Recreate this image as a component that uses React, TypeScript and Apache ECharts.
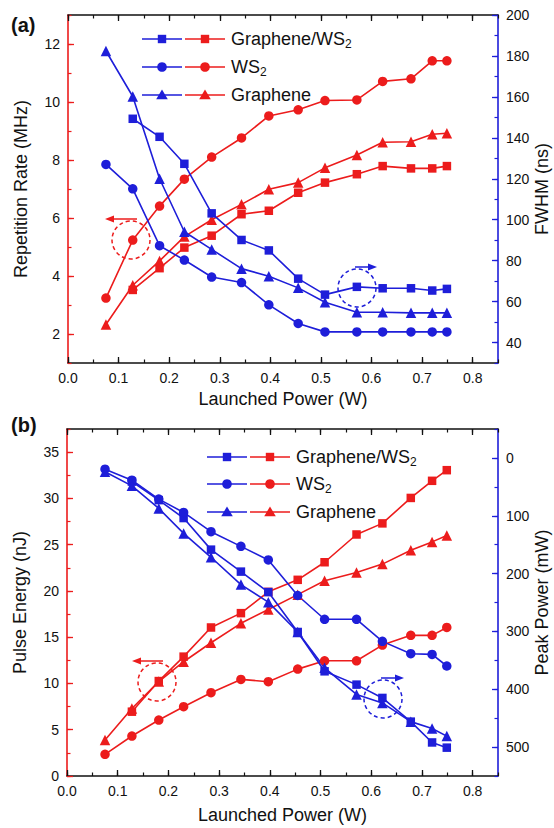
import React, { useEffect, useRef } from "react";
import * as echarts from "echarts";

// ---------- data ----------
const power = [0.075, 0.128, 0.181, 0.23, 0.284, 0.343, 0.397, 0.455, 0.508, 0.571, 0.622, 0.678, 0.72, 0.749];
const powerGW = [0.128, 0.181, 0.23, 0.284, 0.343, 0.397, 0.455, 0.508, 0.571, 0.622, 0.678, 0.72, 0.749];

// (a) repetition rate (MHz)
const repGW = [3.52, 4.27, 4.98, 5.39, 6.13, 6.25, 6.87, 7.22, 7.51, 7.79, 7.71, 7.71, 7.79];
const repWS2 = [3.24, 5.24, 6.41, 7.34, 8.1, 8.76, 9.52, 9.73, 10.05, 10.07, 10.71, 10.8, 11.42, 11.42];
const repG = [2.33, 3.68, 4.52, 5.36, 5.94, 6.47, 6.99, 7.22, 7.73, 8.17, 8.61, 8.63, 8.89, 8.92];
// (a) FWHM (ns)
const fwhmGW = [149.3, 140.5, 127.3, 103.1, 90.1, 85, 71.2, 63.4, 67.2, 66.5, 66.5, 65.4, 66.2];
const fwhmWS2 = [127, 115.1, 87.3, 80.3, 72, 69.3, 58.4, 49.3, 45.2, 45.2, 45.2, 45.2, 45.2, 45.2];
const fwhmG = [182.4, 160.2, 120, 94.1, 85.5, 76.1, 72.4, 66.7, 59.7, 54.8, 54.8, 54.5, 54.5, 54.5];

// (b) pulse energy (nJ)
const energyGW = [6.95, 10.26, 12.9, 16.05, 17.6, 19.9, 21.2, 23.1, 26.1, 27.3, 30.05, 31.9, 33.05];
const energyWS2 = [2.34, 4.32, 6.05, 7.49, 9.0, 10.44, 10.19, 11.55, 12.45, 12.45, 14.15, 15.2, 15.2, 16.05];
const energyG = [3.89, 7.3, 10.2, 12.35, 14.4, 16.5, 18.0, 19.6, 21.1, 22.0, 22.9, 24.4, 25.3, 26.0];
// (b) peak power (mW)
const peakGW = [41, 73, 104, 158.6, 196.6, 232, 301, 369, 392, 415, 456, 492, 501];
const peakWS2 = [19.5, 38.5, 71.2, 94.3, 127.6, 152.9, 176.4, 237.9, 279, 279, 317.2, 338.5, 339.7, 359.8];
const peakG = [24, 48.3, 87.4, 130.5, 171.8, 219, 249.4, 301, 363, 409, 423.6, 456, 467.8, 481];

// tick labels
const xTicks = [0, 0.1, 0.2, 0.3, 0.4, 0.5, 0.6, 0.7, 0.8];
const repTicks = [2, 4, 6, 8, 10, 12];
const fwhmTicks = [40, 60, 80, 100, 120, 140, 160, 180, 200];
const energyTicks = [0, 5, 10, 15, 20, 25, 30, 35];
const peakTicks = [0, 100, 200, 300, 400, 500];

const legendNames = ["Graphene/WS", "WS", "Graphene"];
const legendSubs = ["2", "2", ""];
const legendSymbols = ["rect", "circle", "triangle"];

// ---------- style ----------
const BLUE = "#1e1ed9";
const RED = "#ec1c1c";
const BLACK = "#111";
const FONT = "'Liberation Sans', Arial, sans-serif";

const zip = (xs: number[], ys: number[]) => xs.map((x, i) => [x, ys[i]]);

function xAxesFor(gridIndex: number, nameGap: number) {
  const base = {
    type: "value",
    gridIndex,
    min: 0,
    max: 0.85,
    splitLine: { show: false },
  };
  return [
    {
      ...base,
      position: "bottom",
      name: "Launched Power (W)",
      nameLocation: "middle",
      nameGap,
      nameMoveOverlap: false,
      nameTextStyle: { fontSize: 18, color: BLACK, fontFamily: FONT },
      axisLine: { show: true, onZero: false, lineStyle: { color: BLACK, width: 1.5 } },
      axisTick: { show: true, inside: true, length: 6, customValues: xTicks, lineStyle: { color: BLACK, width: 1.3 } },
      axisLabel: {
        customValues: xTicks,
        formatter: (v: number) => v.toFixed(1),
        color: BLACK,
        fontSize: 14,
        fontFamily: FONT,
        margin: 8,
      },
    },
    {
      ...base,
      position: "bottom",
      interval: 0.05,
      axisLine: { show: false, onZero: false },
      axisTick: { show: true, inside: true, length: 3.5, lineStyle: { color: BLACK, width: 1.2 } },
      axisLabel: { show: false },
    },
    {
      ...base,
      position: "top",
      axisLine: { show: true, onZero: false, lineStyle: { color: BLACK, width: 1.5 } },
      axisTick: { show: true, inside: true, length: 6, customValues: xTicks, lineStyle: { color: BLACK, width: 1.3 } },
      axisLabel: { show: false },
    },
    {
      ...base,
      position: "top",
      interval: 0.05,
      axisLine: { show: false, onZero: false },
      axisTick: { show: true, inside: true, length: 3.5, lineStyle: { color: BLACK, width: 1.2 } },
      axisLabel: { show: false },
    },
  ];
}

function yAxisPair(
  gridIndex: number,
  position: string,
  color: string,
  min: number,
  max: number,
  ticks: number[],
  minorStep: number,
  name: string,
  nameGap: number,
  inverse: boolean
) {
  const base = {
    type: "value",
    gridIndex,
    position,
    min,
    max,
    inverse,
    splitLine: { show: false },
  };
  return [
    {
      ...base,
      name,
      nameLocation: "middle",
      nameRotate: 90,
      nameGap,
      nameMoveOverlap: false,
      nameTextStyle: { fontSize: 18, color: BLACK, fontFamily: FONT },
      axisLine: { show: true, onZero: false, lineStyle: { color, width: 1.6 } },
      axisTick: { show: true, inside: true, length: 6, customValues: ticks, lineStyle: { color, width: 1.3 } },
      axisLabel: { customValues: ticks, color: BLACK, fontSize: 14, fontFamily: FONT, margin: 8 },
    },
    {
      ...base,
      interval: minorStep,
      axisLine: { show: false, onZero: false },
      axisTick: { show: true, inside: true, length: 3.5, lineStyle: { color, width: 1.2 } },
      axisLabel: { show: false },
    },
  ];
}

function lineSeries(
  data: number[][],
  color: string,
  symbol: string,
  xAxisIndex: number,
  yAxisIndex: number
) {
  const size = symbol === "rect" ? 8.5 : symbol === "circle" ? 9.5 : 10.5;
  return {
    type: "line",
    data,
    xAxisIndex,
    yAxisIndex,
    symbol,
    symbolSize: size,
    showSymbol: true,
    lineStyle: { color, width: 1.6 },
    itemStyle: { color, borderWidth: 0 },
    emphasis: { disabled: true },
    silent: true,
  };
}

function marker(sym: string, cx: number, cy: number, color: string) {
  if (sym === "rect") {
    return { type: "rect", shape: { x: cx - 4.2, y: cy - 4.2, width: 8.4, height: 8.4 }, style: { fill: color } };
  }
  if (sym === "circle") {
    return { type: "circle", shape: { cx, cy, r: 4.8 }, style: { fill: color } };
  }
  return {
    type: "polygon",
    shape: { points: [[cx, cy - 5.5], [cx + 5.8, cy + 4.2], [cx - 5.8, cy + 4.2]] },
    style: { fill: color },
  };
}

function legendGraphic(x0: number, ys: number[]) {
  const els: any[] = [];
  ys.forEach((y, i) => {
    const sym = legendSymbols[i];
    els.push({ type: "line", shape: { x1: x0, y1: y, x2: x0 + 40, y2: y }, style: { stroke: BLUE, lineWidth: 1.6 } });
    els.push(marker(sym, x0 + 20, y, BLUE));
    els.push({ type: "line", shape: { x1: x0 + 43, y1: y, x2: x0 + 83, y2: y }, style: { stroke: RED, lineWidth: 1.6 } });
    els.push(marker(sym, x0 + 63, y, RED));
    const sub = legendSubs[i];
    els.push({
      type: "text",
      x: x0 + 89,
      y,
      style: {
        text: sub ? `{a|${legendNames[i]}}{s|${sub}}` : `{a|${legendNames[i]}}`,
        verticalAlign: "middle",
        align: "left",
        rich: {
          a: { fontSize: 18, fontFamily: FONT, fill: BLACK, lineHeight: 22 },
          s: { fontSize: 12, fontFamily: FONT, fill: BLACK, lineHeight: 10, verticalAlign: "bottom" },
        },
      },
    });
  });
  return els;
}

function annotation(cx: number, cy: number, r: number, dir: number, len: number, color: string) {
  const y = cy - r - 2;
  const xEnd = cx + dir * len;
  return [
    {
      type: "circle",
      shape: { cx, cy, r },
      style: { fill: "none", stroke: color, lineWidth: 1.5, lineDash: [4, 3] },
    },
    {
      type: "line",
      shape: { x1: cx + (dir < 0 ? 6 : -2), y1: y, x2: xEnd - dir * 6, y2: y },
      style: { stroke: color, lineWidth: 1.5 },
    },
    {
      type: "polygon",
      shape: { points: [[xEnd, y], [xEnd - dir * 9, y - 3.5], [xEnd - dir * 9, y + 3.5]] },
      style: { fill: color },
    },
  ];
}

export default function App() {
  const ref = useRef<HTMLDivElement>(null);

  useEffect(() => {
    if (!ref.current) return;
    const chart = echarts.init(ref.current, undefined, { renderer: "svg" });

    const option: any = {
      animation: false,
      backgroundColor: "#fff",
      textStyle: { fontFamily: FONT },
      grid: [
        { left: 68, top: 15, width: 430, height: 348, containLabel: false, outerBoundsMode: "none" },
        { left: 67, top: 429, width: 431, height: 347, containLabel: false, outerBoundsMode: "none" },
      ],
      xAxis: [...xAxesFor(0, 27), ...xAxesFor(1, 30)],
      yAxis: [
        ...yAxisPair(0, "left", RED, 1, 13, repTicks, 1, "Repetition Rate (MHz)", 38, false),
        ...yAxisPair(0, "right", BLUE, 30, 200, fwhmTicks, 10, "FWHM (ns)", 35, false),
        ...yAxisPair(1, "left", RED, 0, 37.5, energyTicks, 2.5, "Pulse Energy (nJ)", 38, false),
        ...yAxisPair(1, "right", BLUE, -50, 550, peakTicks, 50, "Peak Power (mW)", 35, true),
      ],
      series: [
        lineSeries(zip(powerGW, repGW), RED, "rect", 0, 0),
        lineSeries(zip(power, repWS2), RED, "circle", 0, 0),
        lineSeries(zip(power, repG), RED, "triangle", 0, 0),
        lineSeries(zip(powerGW, fwhmGW), BLUE, "rect", 0, 2),
        lineSeries(zip(power, fwhmWS2), BLUE, "circle", 0, 2),
        lineSeries(zip(power, fwhmG), BLUE, "triangle", 0, 2),
        lineSeries(zip(powerGW, energyGW), RED, "rect", 4, 4),
        lineSeries(zip(power, energyWS2), RED, "circle", 4, 4),
        lineSeries(zip(power, energyG), RED, "triangle", 4, 4),
        lineSeries(zip(powerGW, peakGW), BLUE, "rect", 4, 6),
        lineSeries(zip(power, peakWS2), BLUE, "circle", 4, 6),
        lineSeries(zip(power, peakG), BLUE, "triangle", 4, 6),
      ],
      graphic: [
        {
          type: "text",
          x: 11,
          y: 25,
          style: { text: "(a)", font: `bold 20px ${FONT}`, fill: BLACK, verticalAlign: "middle", align: "left" },
        },
        {
          type: "text",
          x: 11,
          y: 425,
          style: { text: "(b)", font: `bold 20px ${FONT}`, fill: BLACK, verticalAlign: "middle", align: "left" },
        },
        ...legendGraphic(142, [39, 67, 95]),
        ...legendGraphic(207, [457, 484, 512]),
        ...annotation(131, 240, 19, -1, 26, RED),
        ...annotation(357, 288, 19, 1, 20, BLUE),
        ...annotation(157, 682, 19, -1, 25, RED),
        ...annotation(383, 699, 19, 1, 21, BLUE),
      ],
    };

    chart.setOption(option);
    return () => chart.dispose();
  }, []);

  return (
    <div
      ref={ref}
      style={{ position: "fixed", left: 0, top: 0, width: 554, height: 828, background: "#fff" }}
    />
  );
}
